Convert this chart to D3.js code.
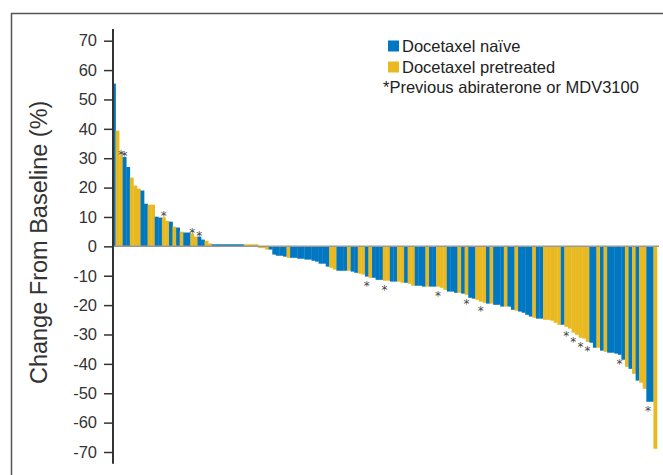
<!DOCTYPE html>
<html>
<head>
<meta charset="utf-8">
<script src="https://cdn.jsdelivr.net/npm/d3@7"></script>
<style>
  body { margin: 0; background: #fff; }
  text { font-family: "Liberation Sans", Arial, Helvetica, sans-serif; }
</style>
</head>
<body>
<div id="waterfall"></div>
<script>
//values, one per patient, sorted as drawn
var changes = [55.4, 39.4, 30.9, 30.4, 27.0, 23.4, 20.7, 19.6, 19.0, 14.5,
  14.2, 14.2, 10.1, 9.8, 9.9, 8.7, 8.4, 6.7, 6.4, 5.0,
  4.7, 4.7, 4.3, 3.3, 3.3, 2.3, 1.9, 1.0, 0.7, 0.7,
  0.7, 0.7, 0.7, 0.7, 0.7, 0.7, 0.7, 0.7, 0.7, 0.7,
  0.7, -0.6, -0.6, -1.1, -1.1, -2.8, -3.2, -3.2, -3.5, -3.9,
  -3.9, -3.9, -4.2, -4.2, -4.5, -4.5, -4.9, -5.2, -5.9, -5.9,
  -6.9, -7.3, -7.9, -8.3, -8.3, -8.3, -8.3, -8.6, -9.0, -9.3,
  -9.6, -10.3, -10.7, -10.7, -11.4, -11.4, -11.7, -11.7, -12.0, -12.0,
  -12.0, -12.4, -12.4, -12.7, -13.4, -13.4, -13.4, -13.7, -13.7, -13.7,
  -13.7, -13.7, -14.1, -14.8, -15.4, -15.4, -15.8, -15.8, -16.1, -16.5,
  -17.5, -17.8, -18.2, -18.8, -19.2, -19.5, -19.5, -19.9, -19.9, -20.5,
  -20.5, -20.5, -21.6, -21.9, -22.2, -22.6, -23.3, -23.9, -24.3, -24.6,
  -24.6, -25.0, -25.0, -25.3, -26.0, -26.7, -26.7, -27.4, -28.0, -29.4,
  -30.1, -31.1, -31.4, -32.5, -32.8, -34.5, -34.5, -35.5, -35.9, -36.2,
  -36.2, -36.5, -36.9, -38.6, -41.0, -41.7, -43.4, -45.7, -46.4, -48.5,
  -52.9, -52.9, -68.9];

//N = docetaxel naive, P = docetaxel pretreated
var groups = ["N","P","P","N","N","P","P","P","N","N",
  "P","P","N","N","P","P","N","P","N","P",
  "N","N","P","P","N","N","P","P","N","N",
  "N","N","N","N","N","N","N","P","P","P",
  "P","P","P","P","N","N","N","N","N","P",
  "N","N","N","N","N","N","N","N","N","N",
  "N","P","P","N","N","N","P","N","N","P",
  "P","N","P","N","N","N","P","P","N","N",
  "P","P","N","P","P","N","N","N","P","N",
  "N","P","P","P","N","N","N","P","N","P",
  "N","N","P","P","P","N","P","N","N","N",
  "P","N","N","P","N","N","N","N","P","N",
  "N","P","P","P","P","P","N","P","P","P",
  "P","P","P","P","N","N","P","N","P","N",
  "N","N","N","N","P","N","P","N","P","P",
  "N","N","P"];

//patients with previous abiraterone or MDV3100 (1-based position)
var starred = [3, 4, 15, 23, 25, 72, 77, 92, 100, 104, 128, 130, 132, 134, 143, 151];

var yTicks = [70, 60, 50, 40, 30, 20, 10, 0, -10, -20, -30, -40, -50, -60, -70];
var axisExtent = [74, -74];

var legendNames = ["Docetaxel na\u00efve", "Docetaxel pretreated"];
var footnote = "*Previous abiraterone or MDV3100";

var colors = {N: "#0077c0", P: "#e8b920"};

//svg the size of the window
var width = 663, height = 475;
var svg = d3.select("#waterfall")
  .append("svg")
  .attr("width", width)
  .attr("height", height);

//outer frame (only top and left show)
svg.append("rect")
  .attr("x", 11.5)
  .attr("y", 13.5)
  .attr("width", 700)
  .attr("height", 500)
  .style("fill", "none")
  .style("stroke", "#555")
  .style("stroke-width", 1.5);

//scales
var data = changes.map(function(v, i) {
  return {i: i, value: v, group: groups[i], star: starred.indexOf(i + 1) >= 0};
});

var xScale = d3.scaleBand()
  .domain(data.map(function(d) { return d.i; }))
  .range([112, 657])
  .padding(0);

var yScale = d3.scaleLinear()
  .domain([-70, 70])
  .range([452, 40.7]);

//bars
svg.selectAll(".bar")
  .data(data)
  .enter().append("rect")
  .attr("class", "bar")
  .attr("x", function(d) { return xScale(d.i); })
  .attr("width", xScale.bandwidth() + 0.3)
  .attr("y", function(d) { return yScale(Math.max(0, d.value)); })
  .attr("height", function(d) { return Math.abs(yScale(d.value) - yScale(0)); })
  .style("fill", function(d) { return colors[d.group]; });

//zero line
svg.append("line")
  .attr("x1", xScale.range()[0])
  .attr("x2", xScale.range()[1] + 2)
  .attr("y1", yScale(0))
  .attr("y2", yScale(0))
  .style("stroke", "#999")
  .style("stroke-width", 1.5);

//asterisks above / below the bars
svg.selectAll(".star")
  .data(data.filter(function(d) { return d.star; }))
  .enter().append("text")
  .attr("class", "star")
  .attr("x", function(d) { return xScale(d.i) + xScale.bandwidth() / 2; })
  .attr("y", function(d) {
    return d.value >= 0 ? yScale(d.value) - 5 + 8 : yScale(d.value) + 5 + 8;
  })
  .attr("text-anchor", "middle")
  .style("font-family", "'DejaVu Sans', sans-serif")
  .style("font-size", "12px")
  .style("fill", "#444")
  .text("*");

//y axis
var yAxis = svg.append("g")
  .attr("transform", "translate(113,0)")
  .call(d3.axisLeft(yScale)
    .tickValues(yTicks)
    .tickSize(9)
    .tickPadding(7)
    .tickFormat(function(d) { return String(d); }));
yAxis.select(".domain").remove();
yAxis.selectAll(".tick line").style("stroke", "#333").style("stroke-width", 1.5);
yAxis.selectAll(".tick text")
  .style("font-size", "16.5px")
  .style("fill", "#333")
  .style("font-family", "'Liberation Sans', Arial, sans-serif");

svg.append("line")
  .attr("x1", 113).attr("x2", 113)
  .attr("y1", yScale(axisExtent[0]))
  .attr("y2", yScale(axisExtent[1]))
  .style("stroke", "#333")
  .style("stroke-width", 2);

//y axis title
svg.append("text")
  .attr("transform", "translate(47," + (yScale(0) - 4) + ") rotate(-90)")
  .attr("text-anchor", "middle")
  .style("font-size", "23.5px")
  .style("fill", "#333")
  .text("Change From Baseline (%)");

//legend
var legend = svg.append("g").attr("transform", "translate(388,0)");
legend.selectAll("rect")
  .data(legendNames)
  .enter().append("rect")
  .attr("x", 0)
  .attr("y", function(d, i) { return 40.5 + i * 21; })
  .attr("width", 11)
  .attr("height", 11)
  .style("fill", function(d, i) { return i == 0 ? colors.N : colors.P; });
legend.selectAll(".lab")
  .data(legendNames)
  .enter().append("text")
  .attr("class", "lab")
  .attr("x", 14)
  .attr("y", function(d, i) { return 51.5 + i * 21; })
  .style("font-size", "16.5px")
  .style("fill", "#222")
  .text(function(d) { return d; });
legend.append("text")
  .attr("x", -5)
  .attr("y", 93)
  .style("font-size", "16.5px")
  .style("fill", "#222")
  .text(footnote);
</script>
</body>
</html>
